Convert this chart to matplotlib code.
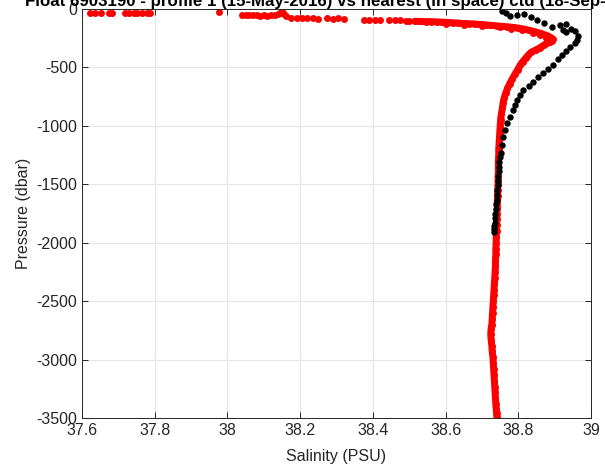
import numpy as np
import matplotlib
matplotlib.use("Agg")
import matplotlib.pyplot as plt
from matplotlib.ticker import FuncFormatter

TITLE = "Float 6903190 - profile 1 (15-May-2016) vs nearest (in space) ctd (18-Sep-2015)"

# float profile (red): salinity / pressure pairs
FLOAT_SAL = [
    37.622, 37.636, 37.652, 37.674, 37.682, 37.718, 37.729, 37.742, 37.751, 37.764, 37.778, 37.786,
    37.978,
    38.040, 38.050, 38.060, 38.070, 38.080, 38.090, 38.100, 38.110, 38.120, 38.130, 38.140, 38.145,
    38.150, 38.155, 38.160,
    38.175, 38.190, 38.205, 38.220, 38.235, 38.250,
    38.275, 38.290, 38.305, 38.320,
    38.375, 38.390, 38.405, 38.420, 38.445, 38.460, 38.475, 38.490, 38.500,
    38.515, 38.530, 38.545, 38.560, 38.575, 38.590, 38.605, 38.620, 38.635, 38.650, 38.665, 38.680,
    38.695, 38.710, 38.725, 38.740, 38.755, 38.770, 38.785, 38.800, 38.815, 38.830, 38.845, 38.860,
    38.872, 38.882, 38.890, 38.895, 38.893, 38.888,
    38.600, 38.650, 38.700, 38.750, 38.780, 38.810, 38.840, 38.860, 38.875, 38.885,
    38.880, 38.870, 38.860, 38.848, 38.835, 38.827, 38.820, 38.812, 38.805, 38.798, 38.790, 38.783,
    38.776, 38.770, 38.765, 38.761, 38.758, 38.756, 38.753, 38.751, 38.750, 38.749, 38.748, 38.747,
    38.746, 38.746, 38.745, 38.745, 38.745, 38.744, 38.744, 38.743, 38.743, 38.742, 38.742, 38.741,
    38.741, 38.740, 38.740, 38.739, 38.739, 38.738, 38.738, 38.737, 38.737, 38.736, 38.735, 38.734,
    38.733, 38.732, 38.731, 38.730, 38.729, 38.728, 38.727, 38.725, 38.724, 38.725, 38.727, 38.728,
    38.730, 38.731, 38.732, 38.733, 38.734, 38.735, 38.736, 38.737, 38.738, 38.739, 38.740, 38.741,
]
FLOAT_PRES = [
    -30, -30, -32, -30, -32, -32, -30, -32, -30, -32, -30, -32,
    -25,
    -50, -52, -50, -54, -52, -56, -54, -58, -55, -52, -45, -30,
    -20, -40, -60,
    -75, -78, -80, -78, -80, -82,
    -80, -82, -80, -82,
    -90, -92, -90, -92, -95, -97, -96, -100, -102,
    -105, -106, -108, -108, -110, -112, -115, -118, -120, -124, -126, -128,
    -132, -136, -140, -144, -148, -152, -157, -163, -172, -182, -194, -207,
    -220, -232, -245, -258, -270, -282,
    -128, -135, -145, -158, -168, -182, -205, -225, -245, -265,
    -290, -310, -330, -350, -370, -395, -420, -450, -480, -520, -560, -600,
    -640, -680, -720, -760, -800, -850, -900, -950, -1000, -1050, -1100, -1150,
    -1200, -1250, -1300, -1350, -1400, -1450, -1500, -1550, -1600, -1650, -1700, -1750,
    -1800, -1850, -1900, -1950, -2000, -2050, -2100, -2150, -2200, -2250, -2300, -2350,
    -2400, -2450, -2500, -2550, -2600, -2650, -2700, -2735, -2780, -2830, -2880, -2930,
    -2980, -3030, -3080, -3130, -3180, -3230, -3280, -3330, -3380, -3420, -3460, -3495,
]

# nearest ctd profile (black)
CTD_SAL = [
    38.755, 38.765, 38.778, 38.795, 38.815, 38.835, 38.850, 38.870, 38.893, 38.915, 38.930, 38.922,
    38.930, 38.945, 38.955, 38.965, 38.962, 38.955, 38.942, 38.930, 38.920, 38.910, 38.896, 38.882,
    38.868, 38.855, 38.841, 38.828, 38.814, 38.805, 38.797, 38.790, 38.784, 38.777, 38.770, 38.764,
    38.759, 38.755, 38.751, 38.749, 38.748, 38.747, 38.746, 38.745, 38.744, 38.743, 38.742, 38.741,
    38.740, 38.739, 38.738, 38.737, 38.736, 38.735, 38.734, 38.733, 38.732,
]
CTD_PRES = [
    -20, -35, -62, -52, -45, -70, -95, -120, -150, -133, -128, -180,
    -200, -170, -185, -230, -265, -290, -325, -360, -393, -430, -479, -515,
    -547, -585, -624, -658, -693, -735, -778, -820, -864, -920, -975, -1035,
    -1095, -1160, -1232, -1270, -1310, -1350, -1390, -1430, -1470, -1510, -1550, -1590,
    -1630, -1670, -1710, -1750, -1790, -1830, -1860, -1885, -1905,
]

X_TICKS = [37.6, 37.8, 38.0, 38.2, 38.4, 38.6, 38.8, 39.0]
Y_TICKS = [-3500, -3000, -2500, -2000, -1500, -1000, -500, 0]

plt.rcParams['font.family'] = ['Liberation Sans', 'DejaVu Sans']

fig = plt.figure(figsize=(6.05, 4.74), dpi=100)
ax = fig.add_axes([0.1355, 0.118, 0.8415, 0.863])

# the float samples are so dense they read as a solid band below the hook
band = slice(FLOAT_SAL.index(38.515), FLOAT_PRES.index(-282) + 1)
deep = slice(FLOAT_PRES.index(-290), None)
ax.plot(FLOAT_SAL[band], FLOAT_PRES[band], '-', color='#ff0000', lw=5, solid_capstyle='round')
ax.plot(FLOAT_SAL[deep], FLOAT_PRES[deep], '-', color='#ff0000', lw=5, solid_capstyle='round')
ax.plot(FLOAT_SAL, FLOAT_PRES, 'o', color='#ff0000', markersize=5, markeredgewidth=0)
ax.plot(CTD_SAL, CTD_PRES, 'o', color='black', markersize=4.6, markeredgewidth=0)

ax.set_xlim(37.6, 39.0)
ax.set_ylim(-3500, 0)
ax.set_xticks(X_TICKS)
ax.set_yticks(Y_TICKS)
ax.xaxis.set_major_formatter(FuncFormatter(lambda v, p: "%g" % round(v, 1)))
ax.yaxis.set_major_formatter(FuncFormatter(lambda v, p: "%d" % v))

# matlab look: light grid, ticks inside on all four sides
ax.grid(True, color='#e6e6e6', linewidth=0.8)
ax.set_axisbelow(True)
ax.tick_params(direction='in', top=True, right=True, length=4, width=0.7,
               colors='#262626', labelsize=11.5, labelcolor='#262626')
for s in ax.spines.values():
    s.set_color('#262626')
    s.set_linewidth(0.7)

ax.set_xlabel("Salinity (PSU)", fontsize=11.5, color='#262626', labelpad=8)
ax.set_ylabel("Pressure (dbar)", fontsize=11.5, color='#262626', labelpad=4)
ax.set_title(TITLE, fontsize=12.2, fontweight='bold', pad=2)

fig.savefig("out.png", dpi=100)
